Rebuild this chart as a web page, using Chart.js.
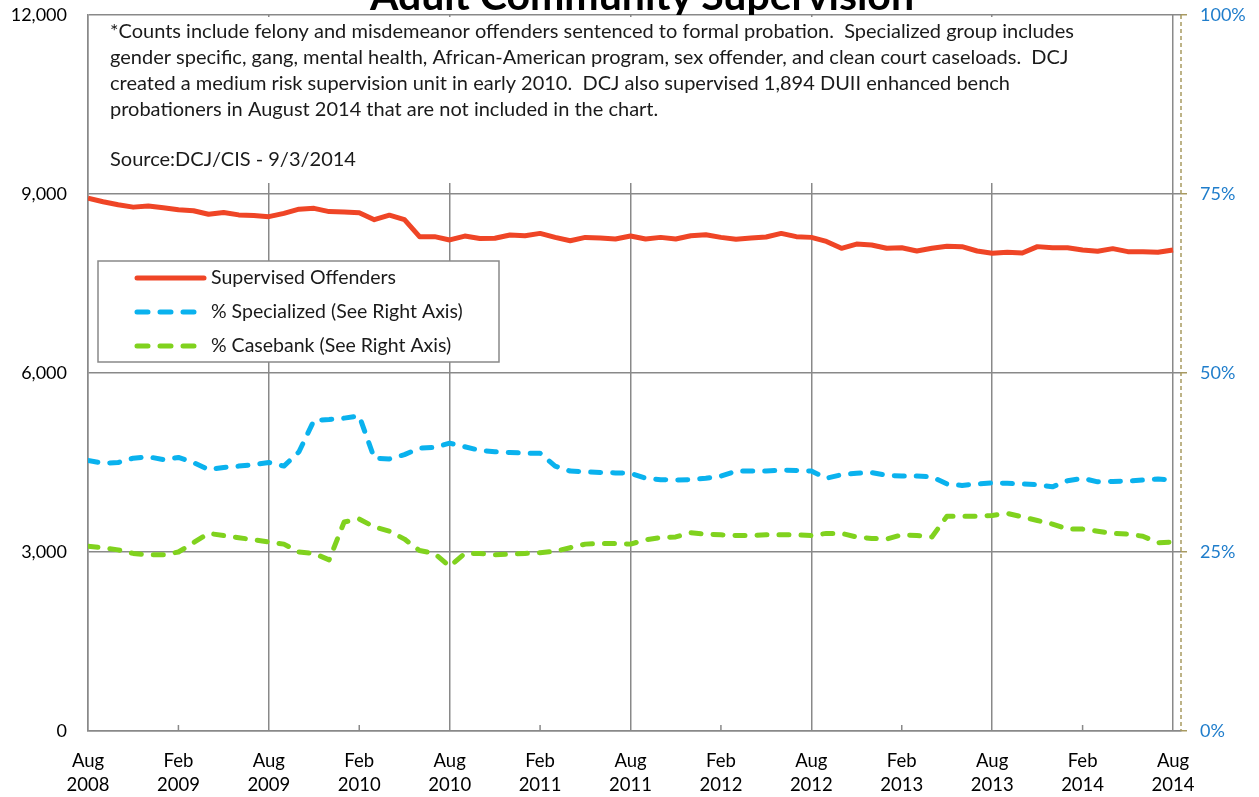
<!DOCTYPE html>
<html>
<head>
<meta charset="utf-8">
<script src="https://cdn.jsdelivr.net/npm/chart.js@4"></script>
<style>
  html, body { margin: 0; padding: 0; background: #fff; }
  #wrap { width: 1259px; height: 797px; position: relative; }
  #titleClip { position: absolute; left: 0; top: 0; width: 1259px; height: 15px; overflow: hidden; z-index: 2; }
  #title { position: absolute; left: 25px; right: 0; top: -26px; text-align: center;
           font: bold 41px Lato, "Open Sans", sans-serif; line-height: 41px; color: #000; white-space: nowrap; }
</style>
</head>
<body>
<div id="wrap">
  <div id="titleClip"><div id="title"></div></div>
  <canvas id="chart"></canvas>
</div>
<script>
// Monatswerte Aug 2008 .. Aug 2014 (73 Monate)
const supervised = [
  8930, 8870, 8820, 8780, 8800, 8770, 8735, 8720, 8660, 8690, 8650, 8640, 8620,
  8675, 8745, 8760, 8705, 8700, 8685, 8570, 8645, 8570, 8285, 8285, 8230,
  8295, 8255, 8258, 8313, 8300, 8340, 8273, 8217, 8273, 8262, 8245, 8296,
  8245, 8273, 8245, 8300, 8318, 8273, 8240, 8262, 8280, 8340, 8285, 8273,
  8205, 8090, 8160, 8145, 8090, 8100, 8045, 8090, 8123, 8118, 8045, 8006,
  8023, 8011, 8118, 8100, 8100, 8062, 8040, 8084, 8034, 8034, 8023, 8062
];
const specialized = [
  37.8, 37.4, 37.5, 38.1, 38.3, 37.9, 38.2, 37.5, 36.5, 36.8, 37.0, 37.2, 37.5,
  37.0, 39.0, 43.4, 43.5, 43.7, 44.0, 38.1, 38.0, 38.6, 39.5, 39.6, 40.2,
  39.7, 39.2, 39.0, 38.9, 38.8, 38.8, 37.0, 36.3, 36.2, 36.1, 36.05, 36.0,
  35.3, 35.1, 35.05, 35.1, 35.3, 35.6, 36.3, 36.3, 36.3, 36.45, 36.4, 36.3,
  35.3, 35.8, 36.0, 36.1, 35.7, 35.6, 35.6, 35.5, 34.5, 34.3, 34.5, 34.65,
  34.6, 34.5, 34.4, 34.1, 34.95, 35.3, 34.8, 34.85, 34.9, 35.05, 35.2, 35.05
];
const casebank = [
  25.8, 25.6, 25.3, 24.8, 24.6, 24.6, 25.0, 26.3, 27.6, 27.3, 27.0, 26.7, 26.4,
  26.1, 25.0, 24.8, 23.9, 29.2, 29.6, 28.5, 27.9, 26.8, 25.2, 24.8, 23.0,
  24.8, 24.8, 24.6, 24.7, 24.8, 24.9, 25.1, 25.6, 26.1, 26.2, 26.2, 26.1,
  26.7, 27.0, 27.1, 27.7, 27.5, 27.4, 27.3, 27.3, 27.4, 27.4, 27.4, 27.3,
  27.6, 27.6, 27.1, 26.9, 26.8, 27.4, 27.3, 27.1, 30.0, 30.0, 30.0, 30.1,
  30.4, 29.9, 29.4, 28.9, 28.2, 28.2, 27.9, 27.6, 27.5, 27.2, 26.3, 26.4
];

const xTickPos = [0, 6, 12, 18, 24, 30, 36, 42, 48, 54, 60, 66, 72];
const xTickLabels = [
  ['Aug','2008'], ['Feb','2009'], ['Aug','2009'], ['Feb','2010'], ['Aug','2010'],
  ['Feb','2011'], ['Aug','2011'], ['Feb','2012'], ['Aug','2012'], ['Feb','2013'],
  ['Aug','2013'], ['Feb','2014'], ['Aug','2014']
];

const seriesNames = ['Supervised Offenders', '% Specialized (See Right Axis)', '% Casebank (See Right Axis)'];
const colors = ['#EF4526', '#0AB2EE', '#80D21E'];

const titleText = 'Adult Community Supervision';
const noteLines = [
  '*Counts include felony and misdemeanor offenders sentenced to formal probation.  Specialized group includes',
  'gender specific, gang, mental health, African-American program, sex offender, and clean court caseloads.  DCJ',
  'created a medium risk supervision unit in early 2010.  DCJ also supervised 1,894 DUII enhanced bench',
  'probationers in August 2014 that are not included in the chart.',
  '',
  'Source:DCJ/CIS - 9/3/2014'
];

const FONT = 'Lato, "Open Sans", sans-serif';
const GRID = '#898989';
const OLIVE = '#A89A60';

// Titel als HTML-Text, oben abgeschnitten wie im Original
document.getElementById('title').textContent = titleText;

const toPts = arr => arr.map((v, i) => ({ x: i, y: v }));

// Notiz, Legende, rechte gestrichelte Achse und kleine Feb-Ticks
const extras = {
  id: 'extras',
  beforeDatasetsDraw(chart) {
    const { ctx, chartArea: a, scales } = chart;
    ctx.save();
    // weisse Notizflaeche ueber den Gitterlinien
    ctx.fillStyle = '#fff';
    ctx.fillRect(a.left + 1, a.top + 2, scales.x.getPixelForValue(72) - a.left - 2, 166);
    ctx.fillStyle = '#1a1a1a';
    ctx.font = '20px ' + FONT;
    ctx.textBaseline = 'middle';
    ctx.textAlign = 'left';
    noteLines.forEach((t, i) => {
      const yy = i === 5 ? 160 : 32 + i * 26;
      ctx.fillText(t, 110, yy);
    });
    // kleine Ticks an Feb
    ctx.strokeStyle = GRID;
    ctx.lineWidth = 1.5;
    xTickPos.forEach((v, i) => {
      if (i % 2 === 1) {
        const px = scales.x.getPixelForValue(v);
        ctx.beginPath();
        ctx.moveTo(px, a.bottom);
        ctx.lineTo(px, a.bottom - 6);
        ctx.stroke();
      }
    });
    // rechte Achse gestrichelt
    ctx.strokeStyle = OLIVE;
    ctx.setLineDash([4, 3]);
    ctx.beginPath();
    ctx.moveTo(a.right, a.top);
    ctx.lineTo(a.right, a.bottom);
    ctx.stroke();
    ctx.restore();
  },
  afterDraw(chart) {
    const { ctx } = chart;
    ctx.save();
    // Legende
    ctx.fillStyle = '#fff';
    ctx.fillRect(98, 261, 401, 101);
    ctx.strokeStyle = GRID;
    ctx.lineWidth = 1.5;
    ctx.strokeRect(98, 261, 401, 101);
    ctx.font = '19.5px ' + FONT;
    ctx.textAlign = 'left';
    ctx.textBaseline = 'middle';
    seriesNames.forEach((name, i) => {
      const yy = 278 + i * 34;
      ctx.strokeStyle = colors[i];
      ctx.lineWidth = 5;
      ctx.lineCap = 'round';
      ctx.setLineDash(i === 0 ? [] : [11, 12]);
      ctx.beginPath();
      ctx.moveTo(137, yy);
      ctx.lineTo(204, yy);
      ctx.stroke();
      ctx.setLineDash([]);
      ctx.fillStyle = '#1a1a1a';
      ctx.fillText(name, 211, yy);
    });
    ctx.restore();
  }
};

const dash = [10, 12];

new Chart(document.getElementById('chart'), {
  type: 'line',
  data: {
    datasets: [
      { label: seriesNames[0], data: toPts(supervised), yAxisID: 'y',
        borderColor: colors[0], borderWidth: 5, pointRadius: 0, tension: 0, borderJoinStyle: 'round' },
      { label: seriesNames[1], data: toPts(specialized), yAxisID: 'y1',
        borderColor: colors[1], borderWidth: 5, pointRadius: 0, tension: 0,
        borderDash: dash, borderCapStyle: 'round', borderJoinStyle: 'round' },
      { label: seriesNames[2], data: toPts(casebank), yAxisID: 'y1',
        borderColor: colors[2], borderWidth: 5, pointRadius: 0, tension: 0,
        borderDash: dash, borderCapStyle: 'round', borderJoinStyle: 'round' }
    ]
  },
  options: {
    responsive: true,
    maintainAspectRatio: false,
    animation: false,
    layout: { padding: { top: 15, left: 0, right: 0, bottom: 0 } },
    plugins: { legend: { display: false }, tooltip: { enabled: false } },
    scales: {
      x: {
        type: 'linear',
        min: 0,
        max: 72.53,
        afterBuildTicks: s => { s.ticks = xTickPos.map(v => ({ value: v })); },
        afterFit: s => { s.height = 66; },
        grid: {
          color: c => (c.index % 2 === 0 ? GRID : 'rgba(0,0,0,0)'),
          lineWidth: 1.5,
          drawTicks: false
        },
        border: { color: GRID, width: 1.5 },
        ticks: {
          autoSkip: false,
          maxRotation: 0,
          padding: 18,
          color: '#000',
          font: { family: FONT, size: 18.5, lineHeight: 1.3 },
          callback: (v, i) => xTickLabels[i]
        }
      },
      y: {
        position: 'left',
        min: 0,
        max: 12000,
        afterFit: s => { s.width = 88; s.paddingTop = 0; s.paddingBottom = 0; },
        ticks: { stepSize: 3000, padding: 21, color: '#000', font: { family: FONT, size: 18 } },
        grid: { color: GRID, lineWidth: 1.5, drawTicks: false },
        border: { color: GRID, width: 1.5 }
      },
      y1: {
        position: 'right',
        min: 0,
        max: 100,
        afterFit: s => { s.width = 78; s.paddingTop = 0; s.paddingBottom = 0; },
        ticks: { stepSize: 25, padding: 13, color: '#1F7DCB', font: { family: FONT, size: 18 },
                 callback: v => v + '%' },
        grid: { drawOnChartArea: false, color: OLIVE, tickLength: 6, lineWidth: 1.5 },
        border: { display: false }
      }
    }
  },
  plugins: [extras]
});
</script>
</body>
</html>
